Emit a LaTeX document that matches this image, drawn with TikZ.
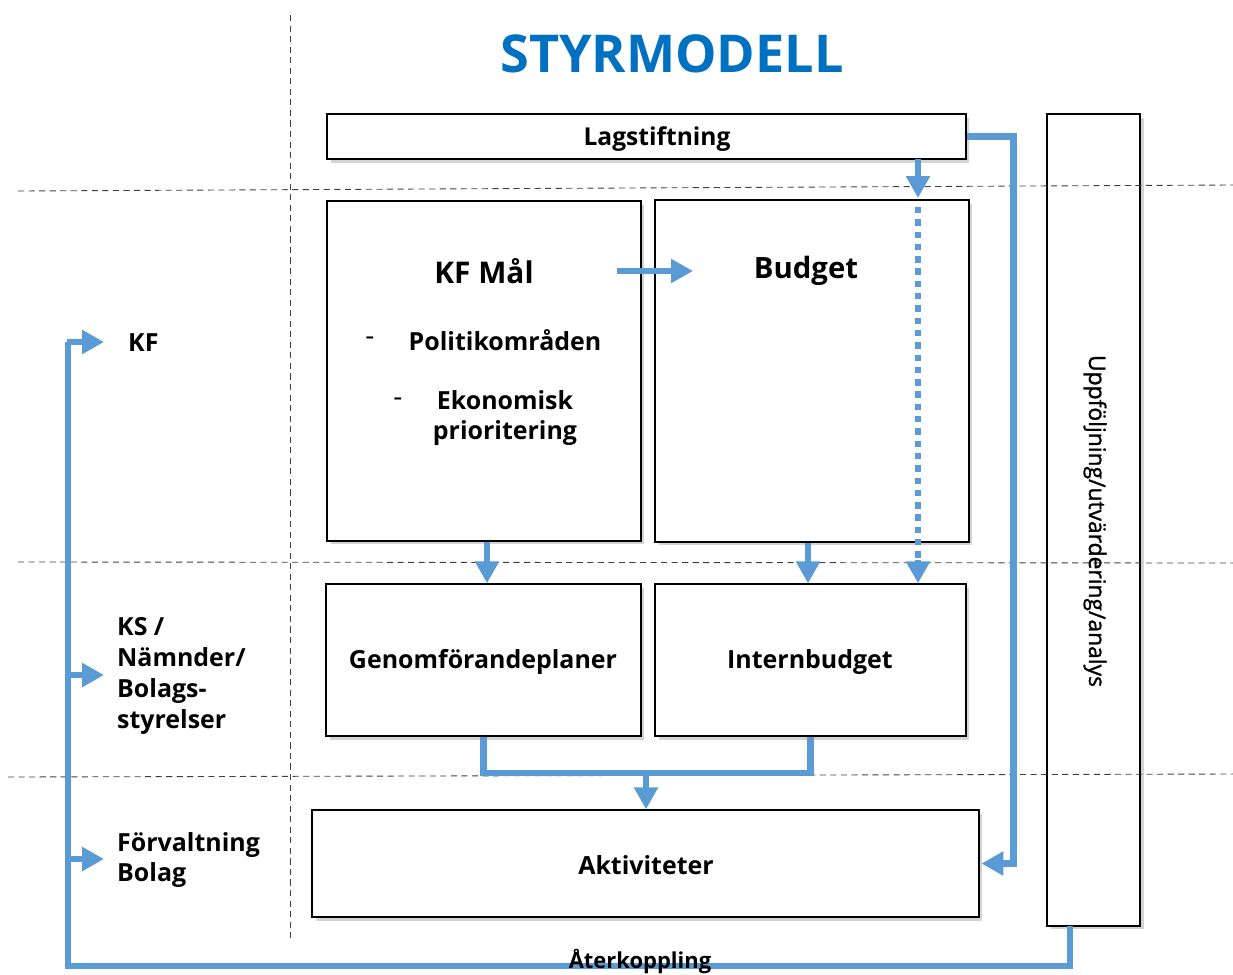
\documentclass[tikz,border=0pt]{standalone}
\usepackage{fontspec}
\setmainfont{Open Sans}
\newfontfamily\uppfont{Open Sans}[FakeBold=1.2]
\usetikzlibrary{arrows.meta, shadows}
\definecolor{flowblue}{RGB}{91,155,213}
\definecolor{titleblue}{RGB}{0,112,192}
\newcommand{\lbl}[1]{\fontsize{#1}{17.6}\selectfont\bfseries}

\begin{document}
\begin{tikzpicture}[x=0.02cm, y=-0.02cm,
    box/.style={draw=black, line width=0.8pt, fill=white, drop shadow={opacity=0.35, shadow xshift=2pt, shadow yshift=-2pt}},
    sep/.style={draw=black!75, line width=0.5pt, dash pattern=on 3.5pt off 2.5pt},
    flowline/.style={draw=flowblue, line width=3.6pt},
    flow/.style={flowline, -{Triangle[length=0.44cm, width=0.46cm]}},
    dotline/.style={draw=flowblue, line width=3.6pt, dash pattern=on 3.6pt off 3.4pt}]
    \useasboundingbox (0,0) rectangle (1233,974);

    \node[box, minimum width=1.86cm, minimum height=16.24cm] (upp) at (1093.5,520) {};

    % separators
    \draw[sep] (290,15) -- (290,938);
    \draw[sep] (18,191) -- (1233,185);
    \draw[sep] (18,562) -- (1233,563);
    \draw[sep] (8,777) -- (1233,774);

    \node[text=titleblue, font=\lbl{29.7}] (title) at (672,54) {STYRMODELL};

    % boxes
    \node[box, minimum width=12.78cm, minimum height=0.9cm] (lag) at (646.5,136.5) {};
    \node[font=\lbl{14}] (lagtext) at (657,139) {Lagstiftning};
    \node[box, minimum width=6.28cm, minimum height=6.8cm] (kf) at (484,371) {};
    \node[box, minimum width=6.28cm, minimum height=6.84cm] (budget) at (812,371) {};
    \node[box, minimum width=6.3cm, minimum height=3.04cm] (genom) at (483.5,660) {};
    \node[font=\lbl{14.2}] (genomtext) at (483,662) {Genomförandeplaner};
    \node[box, minimum width=6.22cm, minimum height=3.04cm] (int) at (810.5,660) {};
    \node[font=\lbl{14.2}] (inttext) at (810,662) {Internbudget};
    \node[box, minimum width=13.34cm, minimum height=2.14cm] (akt) at (645.5,863.5) {};
    \node[font=\lbl{14.2}] (akttext) at (646,865) {Aktiviteter};
    \node[rotate=-90, font=\fontsize{13}{14}\uppfont] (upptext) at (1095,521) {Uppföljning/utvärdering/analys};

    % box texts
    \node[font=\lbl{17}] (kfmal) at (484,271) {KF Mål};
    \node[font=\lbl{16.7}] (budtext) at (806,271) {Budget};
    \node[font=\fontsize{16}{16}\selectfont] (dash1) at (370,341) {-};
    \node[font=\lbl{14.2}] (pol) at (505,340) {Politikområden};
    \node[font=\fontsize{16}{16}\selectfont] (dash2) at (398,402) {-};
    \node[font=\lbl{14.2}, align=center] (eko) at (505,418) {Ekonomisk\\prioritering};

    % left labels
    \node[font=\lbl{14.2}, anchor=west] (kflab) at (122,343) {KF};
    \node[font=\lbl{14.2}, anchor=west, align=left] (kslab) at (111,676) {KS /\\Nämnder/\\Bolags-\\styrelser};
    \node[font=\lbl{14.2}, anchor=west, align=left] (forvlab) at (111,860) {Förvaltning\\Bolag};

    % flows
    \coordinate (mstart) at (617,271);
    \coordinate (mend) at (693,271);
    \draw[flow] (mstart) -- (mend);
    \draw[flow] (lag.east) -- ++(47,0) |- ([xshift=1pt]akt.east);

    \coordinate (lagdown) at (918,159);
    \draw[flow] (lagdown) -- (918,198);
    \draw[dotline] (918,207) -- (918,562);
    \draw[flow] (918,560) -- (int.north -| lagdown);

    \draw[flow] (kf.south -| 487,0) -- (genom.north -| 487,0);
    \draw[flow] (budget.south -| 808,0) -- (int.north -| 808,0);
    \coordinate (join) at (646,773);
    \draw[flowline] (genom.south) |- (join) -| (int.south);
    \draw[flow] (join) -- (akt.north -| join);

    % feedback
    \coordinate (fbtop) at (1070,926);
    \coordinate (fbleft) at (68,966);
    \draw[flowline] (fbtop) |- (fbleft) -- (68,342);
    \draw[flow] (66.5,342) -- (104,342);
    \draw[flow] (68,675) -- (104,675);
    \draw[flow] (68,859) -- (104,859);
    \node[font=\lbl{12.5}] (aterk) at (640,961) {Återkoppling};
\end{tikzpicture}
\end{document}
